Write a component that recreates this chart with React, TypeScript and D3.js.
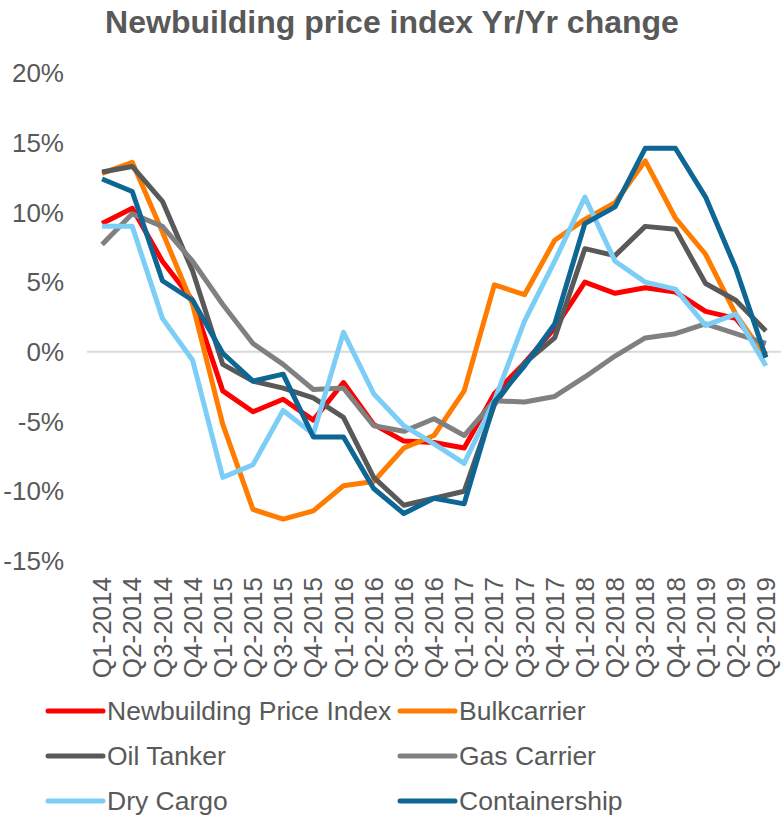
import React, { useRef, useEffect } from 'react';
import * as d3 from 'd3';

const quarters = [
  'Q1-2014', 'Q2-2014', 'Q3-2014', 'Q4-2014',
  'Q1-2015', 'Q2-2015', 'Q3-2015', 'Q4-2015',
  'Q1-2016', 'Q2-2016', 'Q3-2016', 'Q4-2016',
  'Q1-2017', 'Q2-2017', 'Q3-2017', 'Q4-2017',
  'Q1-2018', 'Q2-2018', 'Q3-2018', 'Q4-2018',
  'Q1-2019', 'Q2-2019', 'Q3-2019',
];

const newbuildingIndex = [9.2, 10.3, 6.5, 3.7, -2.8, -4.3, -3.4, -4.9, -2.2, -5.2, -6.4, -6.5, -6.9, -3.0, -0.8, 1.7, 5.0, 4.2, 4.6, 4.3, 2.9, 2.4, -0.2];
const bulkcarrier = [12.8, 13.6, 8.6, 3.4, -5.2, -11.3, -12.0, -11.4, -9.6, -9.3, -6.9, -6.0, -2.8, 4.8, 4.1, 8.0, 9.5, 10.7, 13.7, 9.6, 7.0, 2.7, -0.4];
const oilTanker = [12.9, 13.3, 10.8, 5.8, -0.9, -2.1, -2.6, -3.3, -4.7, -9.0, -11.0, -10.5, -10.0, -3.8, -0.8, 1.0, 7.4, 6.9, 9.0, 8.8, 4.9, 3.7, 1.5];
const gasCarrier = [7.7, 9.9, 9.0, 6.5, 3.4, 0.6, -0.9, -2.7, -2.6, -5.3, -5.7, -4.8, -6.0, -3.5, -3.6, -3.2, -1.8, -0.3, 1.0, 1.3, 2.0, 1.3, 0.6];
const dryCargo = [9.0, 9.0, 2.4, -0.6, -9.0, -8.1, -4.2, -5.9, 1.4, -3.0, -5.3, -6.6, -8.0, -3.5, 2.2, 6.5, 11.1, 6.5, 5.0, 4.5, 1.9, 2.7, -1.0];
const containership = [12.4, 11.5, 5.1, 3.7, -0.1, -2.1, -1.6, -6.1, -6.1, -9.8, -11.6, -10.5, -10.9, -3.6, -1.0, 2.0, 9.2, 10.4, 14.6, 14.6, 11.1, 6.0, -0.4];

const yTicks = [-15, -10, -5, 0, 5, 10, 15, 20];

const series = [
  { name: 'Newbuilding Price Index', values: newbuildingIndex, color: '#FF0000' },
  { name: 'Bulkcarrier', values: bulkcarrier, color: '#FF7C00' },
  { name: 'Oil Tanker', values: oilTanker, color: '#595959' },
  { name: 'Gas Carrier', values: gasCarrier, color: '#808080' },
  { name: 'Dry Cargo', values: dryCargo, color: '#7DCEF6' },
  { name: 'Containership', values: containership, color: '#0D6694' },
];

const FONT = '"Liberation Sans", Arial, sans-serif';
const TEXT = '#595959';

const App = () => {
  const svgRef = useRef<SVGSVGElement | null>(null);

  useEffect(() => {
    const svg = d3.select(svgRef.current);
    svg.selectAll('*').remove();

    const x = d3.scalePoint<string>()
      .domain(quarters)
      .range([87, 781])
      .padding(0.5);

    const y = d3.scaleLinear()
      .domain([-15, 20])
      .range([561, 73]);

    // title
    svg.append('text')
      .attr('x', 392)
      .attr('y', 33)
      .attr('text-anchor', 'middle')
      .style('font-family', FONT)
      .style('font-size', '32px')
      .style('font-weight', 'bold')
      .attr('fill', TEXT)
      .text('Newbuilding price index Yr/Yr change');

    // y tick labels
    svg.append('g')
      .selectAll('text')
      .data(yTicks)
      .enter()
      .append('text')
      .attr('x', 64)
      .attr('y', d => y(d))
      .attr('dy', '0.35em')
      .attr('text-anchor', 'end')
      .style('font-family', FONT)
      .style('font-size', '26px')
      .attr('fill', TEXT)
      .text(d => d + '%');

    // zero line
    svg.append('line')
      .attr('x1', 87)
      .attr('x2', 781)
      .attr('y1', y(0))
      .attr('y2', y(0))
      .attr('stroke', '#D9D9D9')
      .attr('stroke-width', 2);

    // x labels
    svg.append('g')
      .selectAll('text')
      .data(quarters)
      .enter()
      .append('text')
      .attr('transform', d => `translate(${x(d)},577) rotate(-90)`)
      .attr('dy', '0.35em')
      .attr('text-anchor', 'end')
      .style('font-family', FONT)
      .style('font-size', '26px')
      .attr('fill', TEXT)
      .text(d => d);

    // lines
    const line = d3.line<number>()
      .x((d, i) => x(quarters[i]) as number)
      .y(d => y(d));

    svg.append('g')
      .selectAll('path')
      .data(series)
      .enter()
      .append('path')
      .attr('d', d => line(d.values))
      .attr('fill', 'none')
      .attr('stroke', d => d.color)
      .attr('stroke-width', 5)
      .attr('stroke-linejoin', 'round');

    // legend
    const legend = svg.append('g');
    series.forEach((s, i) => {
      const lx = i % 2 === 0 ? 48 : 400;
      const ly = 711 + Math.floor(i / 2) * 45;
      legend.append('line')
        .attr('x1', lx)
        .attr('x2', lx + 55)
        .attr('y1', ly)
        .attr('y2', ly)
        .attr('stroke', s.color)
        .attr('stroke-width', 5)
        .attr('stroke-linecap', 'round');
      legend.append('text')
        .attr('x', lx + 59)
        .attr('y', ly)
        .attr('dy', '0.35em')
        .style('font-family', FONT)
        .style('font-size', '26.5px')
        .attr('fill', TEXT)
        .text(s.name);
    });
  }, []);

  return (
    <svg ref={svgRef} width={782} height={822} style={{ position: 'absolute', left: 0, top: 0 }}></svg>
  );
};

export default App;
